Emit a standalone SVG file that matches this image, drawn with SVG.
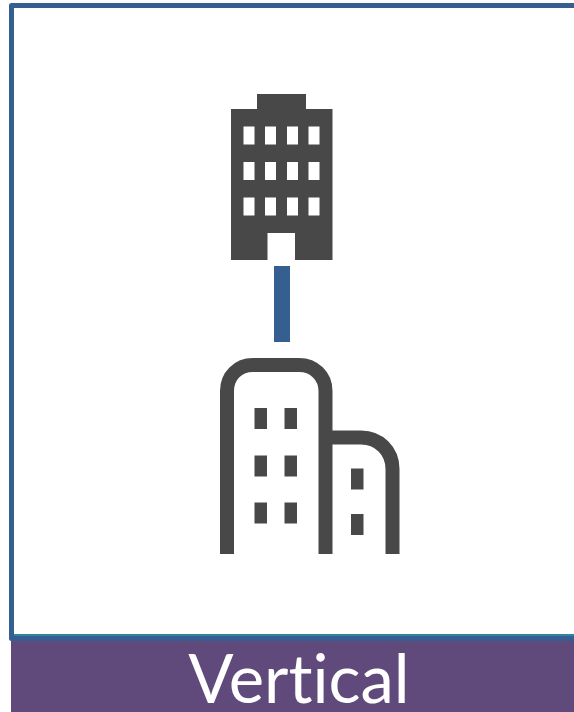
<svg xmlns="http://www.w3.org/2000/svg" width="574" height="712" viewBox="0 0 574 712">
<style>
.dark{fill:#484848}
.win{fill:#ffffff}
.line{fill:none;stroke:#484848;stroke-width:14}
.label{font-family:Lato,"Liberation Sans",sans-serif;font-size:67px;font-weight:400;font-variant-ligatures:none;fill:#ffffff;text-anchor:middle}
</style>
<rect width="574" height="712" fill="#ffffff"/>
<g id="frame">
<path d="M574 5.500H11.500V638.500H574" fill="none" stroke="#365f91" stroke-width="5" stroke-linejoin="round"/>
<rect x="14" y="634" width="560" height="2" fill="#31859c"/>
</g>
<g id="label">
<rect x="11" y="641" width="563" height="71" fill="#604a7b"/>
<text class="label" x="299" y="703">Vertical</text>
</g>
<g id="office-tower">
<path class="dark" d="M257 94H306V109H332.500V260H295V233H267.500V260H231V109H257Z"/>
<g class="win">
<rect x="243.500" y="126.500" width="11" height="18"/><rect x="265" y="126.500" width="11" height="18"/><rect x="287" y="126.500" width="11" height="18"/><rect x="308.500" y="126.500" width="11" height="18"/>
<rect x="243.500" y="162" width="11" height="18"/><rect x="265" y="162" width="11" height="18"/><rect x="287" y="162" width="11" height="18"/><rect x="308.500" y="162" width="11" height="18"/>
<rect x="243.500" y="197.500" width="11" height="18"/><rect x="265" y="197.500" width="11" height="18"/><rect x="287" y="197.500" width="11" height="18"/><rect x="308.500" y="197.500" width="11" height="18"/>
</g>
</g>
<g id="connectors">
<rect x="274" y="266" width="16" height="76" fill="#365f91"/>
</g>
<g id="city-buildings">
<path class="line" d="M227 554V391C227 376 238 365 253 365H299C314 365 325.500 376 325.500 391V554"/>
<path class="line" d="M325.500 437.500H361C379 437.500 392.500 451 392.500 469V554"/>
<g class="dark">
<rect x="254.500" y="408" width="12.500" height="21"/><rect x="284.500" y="408" width="12.500" height="21"/>
<rect x="254.500" y="455.500" width="12.500" height="21"/><rect x="284.500" y="455.500" width="12.500" height="21"/>
<rect x="254.500" y="502.500" width="12.500" height="21"/><rect x="284.500" y="502.500" width="12.500" height="21"/>
<rect x="351" y="468.500" width="12.500" height="21"/><rect x="351" y="514" width="12.500" height="21"/>
</g>
</g>
</svg>
